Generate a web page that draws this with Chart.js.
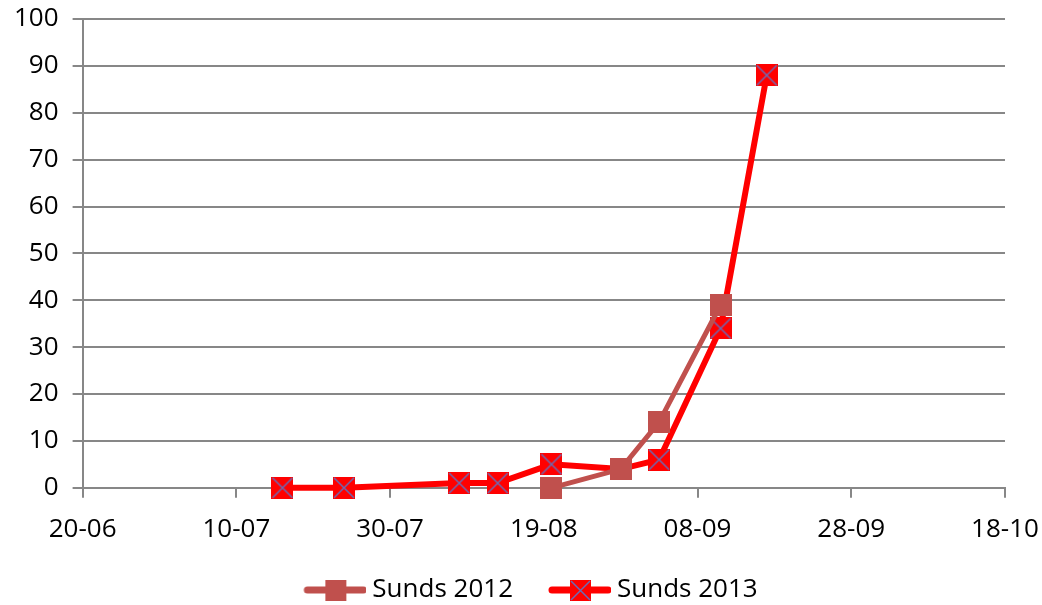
<!DOCTYPE html>
<html>
<head>
<meta charset="utf-8">
<script src="https://cdn.jsdelivr.net/npm/chart.js@4.4.1/dist/chart.umd.min.js"></script>
<style>
  html, body { margin: 0; padding: 0; background: #fff; overflow: hidden; }
  #wrap { width: 1042px; height: 605px; }
</style>
</head>
<body>
<div id="wrap"><canvas id="chart"></canvas></div>
<script>
// data (dd-mm)
const dates2012 = ['20-08', '29-08', '03-09', '11-09'];
const values2012 = [0, 4, 14, 39];
const dates2013 = ['16-07', '24-07', '08-08', '13-08', '20-08', '29-08', '03-09', '11-09', '17-09'];
const values2013 = [0, 0, 1, 1, 5, 4, 6, 34, 88];
const seriesNames = ['Sunds 2012', 'Sunds 2013'];
const xTickStart = '20-06';

const YEAR = 2013;
const DAY = 86400000;
function toDate(s) {
    const [d, m] = s.split('-').map(Number);
    return Date.UTC(YEAR, m - 1, d);
}
const base = toDate(xTickStart);
function dayNum(s) { return Math.round((toDate(s) - base) / DAY); }
function fmt(n) {
    const dt = new Date(base + n * DAY);
    const d = String(dt.getUTCDate()).padStart(2, '0');
    const m = String(dt.getUTCMonth() + 1).padStart(2, '0');
    return d + '-' + m;
}

const col2012 = '#C0504D';
const col2013 = '#FF0000';
const crossCol = '#6B6BB5';

function squareMarker(fill, cross, size) {
    const c = document.createElement('canvas');
    c.width = size; c.height = size;
    const g = c.getContext('2d');
    g.fillStyle = fill;
    g.fillRect(0, 0, size, size);
    if (cross) {
        g.strokeStyle = crossCol;
        g.lineWidth = 1.5;
        g.beginPath();
        g.moveTo(1, 1); g.lineTo(size - 1, size - 1);
        g.moveTo(size - 1, 1); g.lineTo(1, size - 1);
        g.stroke();
    }
    return c;
}

// legend symbol: line + marker, drawn in the right part of a wider image
// so it sits close to its text (Chart.js centres the image in the box)
const LEG_BOX = 75;
function legendMarker(fill, cross, lw) {
    const c = document.createElement('canvas');
    c.width = LEG_BOX + 14; c.height = 24;
    const g = c.getContext('2d');
    const x0 = c.width - 62;
    g.strokeStyle = fill;
    g.lineWidth = lw;
    g.lineCap = 'round';
    g.beginPath();
    g.moveTo(x0 + 3, 12); g.lineTo(c.width - 3, 12);
    g.stroke();
    g.drawImage(squareMarker(fill, cross, 21), x0 + 21, 2);
    return c;
}

const marker2012 = squareMarker(col2012, false, 22);
const marker2013 = squareMarker(col2013, true, 22);
const legend2012 = legendMarker(col2012, false, 7);
const legend2013 = legendMarker(col2013, true, 7);

const gridCol = '#878787';
const font = { family: 'Open Sans', size: 26 };

new Chart(document.getElementById('chart'), {
    type: 'line',
    data: {
        datasets: [
            {
                label: seriesNames[0],
                data: dates2012.map((d, i) => ({ x: dayNum(d), y: values2012[i] })),
                borderColor: col2012,
                backgroundColor: col2012,
                borderWidth: 5,
                pointStyle: marker2012,
                tension: 0,
                clip: false
            },
            {
                label: seriesNames[1],
                data: dates2013.map((d, i) => ({ x: dayNum(d), y: values2013[i] })),
                borderColor: col2013,
                backgroundColor: col2013,
                borderWidth: 6,
                pointStyle: marker2013,
                tension: 0,
                clip: false
            }
        ]
    },
    options: {
        responsive: true,
        maintainAspectRatio: false,
        animation: false,
        layout: { padding: { left: 0, right: 0, top: 0, bottom: -8 } },
        scales: {
            x: {
                type: 'linear',
                min: 0,
                max: 120,
                ticks: {
                    stepSize: 20,
                    color: '#000',
                    font: font,
                    padding: 16,
                    callback: v => fmt(v)
                },
                grid: {
                    drawOnChartArea: false,
                    color: gridCol,
                    lineWidth: 2,
                    tickLength: 10
                },
                border: { color: gridCol, width: 2 },
                // last label only needs its half width on the right
                afterFit: s => { s.paddingRight = 37; }
            },
            y: {
                min: 0,
                max: 100,
                ticks: {
                    stepSize: 10,
                    color: '#000',
                    font: font,
                    padding: 14
                },
                grid: {
                    color: gridCol,
                    lineWidth: 2,
                    tickLength: 10
                },
                border: { color: gridCol, width: 2 },
                afterFit: s => { s.paddingTop = 19; }
            }
        },
        plugins: {
            legend: {
                position: 'bottom',
                labels: {
                    usePointStyle: true,
                    pointStyleWidth: LEG_BOX,
                    color: '#000',
                    font: font,
                    padding: 16,
                    generateLabels: chart => chart.data.datasets.map((ds, i) => ({
                        text: ds.label,
                        pointStyle: i === 0 ? legend2012 : legend2013,
                        fillStyle: ds.borderColor,
                        strokeStyle: ds.borderColor,
                        lineWidth: 0,
                        hidden: false,
                        datasetIndex: i
                    }))
                }
            },
            tooltip: { enabled: false }
        }
    }
});
</script>
</body>
</html>
